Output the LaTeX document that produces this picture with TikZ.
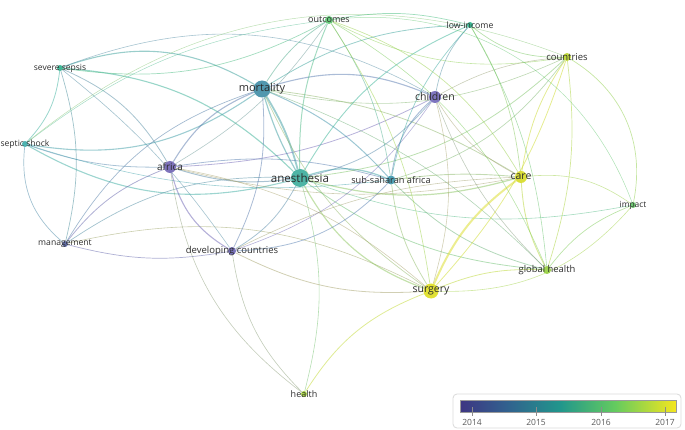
\documentclass[tikz,border=0pt]{standalone}
\usepackage{fontspec}
\setmainfont{Open Sans}
\usetikzlibrary{backgrounds}
\definecolor{txt}{RGB}{45,45,45}
\definecolor{c-mort}{RGB}{62,140,165}
\definecolor{c-anes}{RGB}{58,172,155}
\definecolor{c-chil}{RGB}{112,102,184}
\definecolor{c-afr}{RGB}{112,100,180}
\definecolor{c-dev}{RGB}{105,98,178}
\definecolor{c-mgmt}{RGB}{82,96,160}
\definecolor{c-sep}{RGB}{60,172,168}
\definecolor{c-sev}{RGB}{45,175,140}
\definecolor{c-ssa}{RGB}{60,150,172}
\definecolor{c-outc}{RGB}{88,196,110}
\definecolor{c-low}{RGB}{42,178,138}
\definecolor{c-coun}{RGB}{186,214,42}
\definecolor{c-care}{RGB}{214,218,36}
\definecolor{c-imp}{RGB}{96,196,100}
\definecolor{c-gh}{RGB}{148,206,62}
\definecolor{c-surg}{RGB}{222,222,30}
\definecolor{c-hea}{RGB}{160,208,52}
\tikzset{
  kwdot/.style={circle,inner sep=0pt,opacity=0.9},
  kwlab/.style={text=txt,inner sep=0pt},
  link/.style={draw opacity=0.5}
}
\newcommand\kw[7]{%
  \node[kwdot,fill=c-#1,minimum size=#4pt] (#1) at (#2,#3) {};
  \node[kwlab,font=\fontsize{#6}{#6}\selectfont] (#1-l) at (#2,#3) {#7};}
\begin{document}
\begin{tikzpicture}[x=1pt,y=-1pt]
\useasboundingbox (0,0) rectangle (685,430);
\kw{outc}{329}{20}{8}{c-outc}{9}{outcomes}
\kw{low}{470}{25}{6}{c-low}{8.7}{low-income}
\kw{coun}{567}{57}{8}{c-coun}{9.5}{countries}
\kw{sev}{60}{68}{6}{c-sev}{8.5}{severe sepsis}
\kw{mort}{262}{89}{17}{c-mort}{11}{mortality}
\kw{chil}{435}{97}{12}{c-chil}{10.5}{children}
\kw{sep}{25}{144}{6}{c-sep}{8.6}{septic shock}
\kw{afr}{170}{167}{12}{c-afr}{10}{africa}
\kw{anes}{300}{178}{18}{c-anes}{11.6}{anesthesia}
\kw{ssa}{391}{180}{9}{c-ssa}{9.2}{sub-saharan africa}
\kw{care}{521}{177}{12}{c-care}{10.5}{care}
\kw{imp}{633}{205}{6}{c-imp}{8.4}{impact}
\kw{mgmt}{65}{244}{6}{c-mgmt}{8.6}{management}
\kw{dev}{232}{251}{8}{c-dev}{9.5}{developing countries}
\kw{gh}{547}{270}{8}{c-gh}{9.4}{global health}
\kw{surg}{431}{291}{15}{c-surg}{10.5}{surgery}
\kw{hea}{304}{394}{6}{c-hea}{9}{health}
\begin{pgfonlayer}{background}
\foreach \a/\b/\w/\bd in {
 mort/anes/1.8/8, mort/anes/1.2/-6,
 sev/mort/1.1/25, sev/anes/1.1/20, sev/sep/0.8/18, sev/mgmt/0.7/15,
 sev/afr/0.8/18, sev/dev/0.6/8, sev/outc/0.7/-18, sev/chil/0.6/25,
 sep/mort/1.1/-22, sep/anes/1.1/-22, sep/afr/0.8/-10, sep/mgmt/0.7/-28,
 sep/ssa/0.6/-12, sep/outc/0.5/15, sep/coun/0.5/30,
 mgmt/afr/0.8/15, mgmt/mort/0.7/20, mgmt/anes/0.7/18, mgmt/dev/0.7/-12, mgmt/surg/0.6/20,
 afr/mort/1.1/18, afr/anes/1.0/-12, afr/dev/1.1/-22, afr/chil/0.8/-12,
 afr/ssa/0.8/12, afr/surg/0.6/15, afr/care/0.6/-12, afr/hea/0.6/-22, afr/outc/0.6/-12,
 mort/chil/1.1/20, mort/ssa/1.0/12, mort/outc/0.8/12, mort/low/0.8/15,
 mort/dev/0.8/15, mort/care/0.8/12, mort/surg/0.7/-15, mort/coun/0.6/-18, mort/gh/0.6/12,
 anes/ssa/1.2/20, anes/outc/1.0/12, anes/chil/0.8/-18, anes/care/1.2/-15,
 anes/surg/1.2/-20, anes/gh/0.8/-15, anes/low/0.9/18, anes/dev/0.8/15,
 anes/imp/0.6/-15, anes/coun/0.8/-18, anes/hea/0.6/15,
 chil/ssa/0.9/-20, chil/low/0.7/15, chil/care/0.6/-15, chil/surg/0.6/15,
 chil/coun/0.6/12, chil/dev/0.6/18, chil/gh/0.6/-12,
 ssa/care/0.9/6, ssa/surg/0.8/-12, ssa/gh/0.8/-15, ssa/low/0.7/15,
 ssa/outc/0.7/-12, ssa/coun/0.7/-18,
 care/surg/2.0/-15, care/coun/0.8/12, care/gh/0.9/-12, care/imp/0.6/20,
 care/outc/0.7/-20, care/low/0.7/-12,
 surg/gh/0.8/12, hea/surg/0.8/18, surg/coun/0.8/-12, surg/imp/0.6/-25,
 surg/dev/0.8/15, surg/outc/0.7/-12,
 gh/imp/0.7/15, gh/coun/0.7/-12, gh/outc/0.6/-18,
 coun/imp/0.7/35, coun/low/0.7/20, coun/outc/0.6/18,
 hea/dev/0.6/18, outc/low/0.7/12, dev/ssa/0.8/-22, dev/care/0.6/12,
 outc/imp/0.5/38, low/gh/0.6/12}
 \draw[link,line width=\w pt,color=c-\a!50!c-\b] (\a) to[bend left=\bd] (\b);
\end{pgfonlayer}
% legend
\node[draw=black!15,line width=0.8pt,rounded corners=4pt,minimum width=228pt,minimum height=34pt,inner sep=0pt] (legbox) at (567,411) {};
\shade[left color={rgb,255:red,62;green,54;blue,130},right color={rgb,255:red,50;green,95;blue,142}] (460,400) rectangle (505,412);
\shade[left color={rgb,255:red,50;green,95;blue,142},right color={rgb,255:red,33;green,150;blue,140}] (505,400) rectangle (560,412);
\shade[left color={rgb,255:red,33;green,150;blue,140},right color={rgb,255:red,100;green,203;blue,95}] (560,400) rectangle (615,412);
\shade[left color={rgb,255:red,100;green,203;blue,95},right color={rgb,255:red,245;green,230;blue,30}] (615,400) rectangle (676,412);
\node[draw=black!40,line width=0.6pt,minimum width=216pt,minimum height=12pt,inner sep=0pt] (bar) at (568,406) {};
\foreach \x/\yr in {472/2014,536/2015,601/2016,665/2017}{
  \draw[black!45,line width=0.6pt] (\x,407) -- (\x,416);
  \node[text=black!65,font=\fontsize{8.5}{8.5}\selectfont] (y\yr) at (\x,422) {\yr};
}
\end{tikzpicture}
\end{document}
